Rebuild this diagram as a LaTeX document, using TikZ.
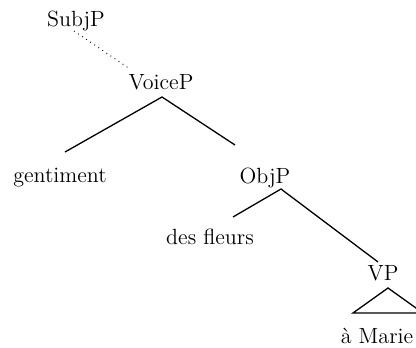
\documentclass[tikz,border=0pt]{standalone}
\usepackage{tikz}
\tikzset{
    tree-label/.style = {anchor=base, inner sep=0pt, font=\fontsize{11}{13}\selectfont},
    branch/.style = {line width=0.65pt},
    move-line/.style = {dotted, line width=0.45pt},
}

\begin{document}
\begin{tikzpicture}[x=0.5pt, y=-0.5pt]
\useasboundingbox (0,0) rectangle (416,347);
\node[tree-label] (subj) at (76,27) {SubjP};
\node[tree-label] (voice) at (161,90) {VoiceP};
\node[tree-label] (gent) at (60,182) {gentiment};
\node[tree-label] (obj) at (265,183) {ObjP};
\node[tree-label] (fleurs) at (210,244) {des fleurs};
\node[tree-label] (vp) at (383,280) {VP};
\node[tree-label] (marie) at (377,343) {à Marie};
% branch ends
\coordinate (subj-foot) at (74,31);
\coordinate (voice-head) at (130,69);
\coordinate (voice-top) at (162,97);
\coordinate (gent-top) at (65,152);
\coordinate (obj-top) at (235,145);
\coordinate (objP-foot) at (281,189);
\coordinate (fleurs-top) at (233,217);
\coordinate (vp-top) at (378,262);
\coordinate (tri-apex) at (388,288);
\draw[move-line] (subj-foot) -- (voice-head);
\draw[branch] (gent-top) -- (voice-top) -- (obj-top);
\draw[branch] (fleurs-top) -- (objP-foot) -- (vp-top);
\draw[branch] (tri-apex) -- ++(-35,25) -- ++(70,0) -- cycle;
\end{tikzpicture}
\end{document}
